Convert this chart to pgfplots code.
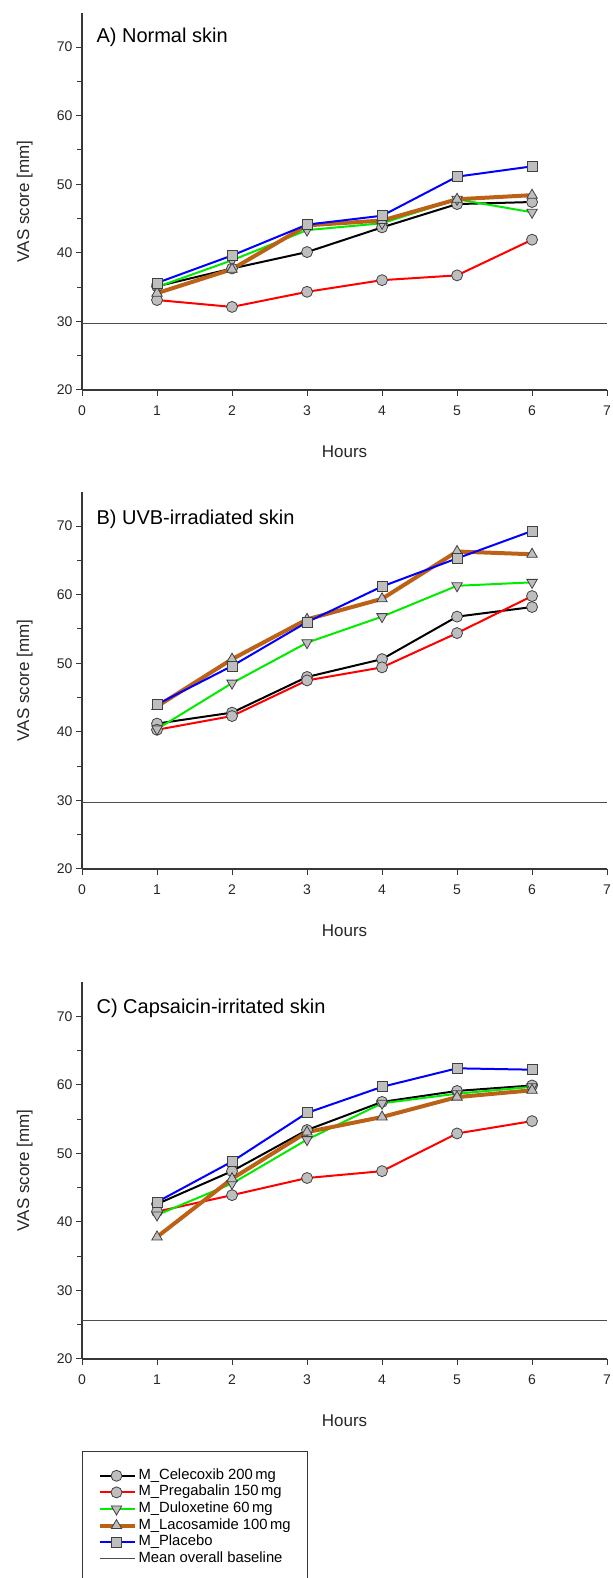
\documentclass[border=0pt]{standalone}
\usepackage{fontspec}
\setmainfont{Liberation Sans}
\usepackage{pgfplots}
\pgfplotsset{compat=1.18}

\definecolor{lacos}{RGB}{188,98,22}
\definecolor{dulox}{RGB}{0,235,0}
\definecolor{mfill}{RGB}{190,190,190}
\definecolor{axgray}{RGB}{55,55,55}

\pgfplotsset{
  vasaxis/.style={
    width=525pt, height=377pt, scale only axis,
    xmin=0, xmax=7, ymin=20, ymax=75,
    axis x line*=bottom, axis y line*=left,
    xtick={0,...,7}, ytick={20,30,...,70}, minor y tick num=1,
    tick align=outside, major tick length=6pt, minor tick length=5pt,
    tick style={line width=1pt, axgray},
    axis line style={line width=1.3pt, axgray},
    /pgf/number format/assume math mode=true,
    ticklabel style={font=\fontsize{14}{14}\selectfont, text=black!85},
    xticklabel style={yshift=-6pt},
    xlabel={Hours}, ylabel={VAS score [mm]},
    label style={font=\fontsize{17}{17}\selectfont, text=black!85},
    xlabel style={at={(axis description cs:0.5,-0.165)}, anchor=center},
    ylabel style={at={(axis description cs:-0.109,0.5)}, anchor=center},
    clip=false,
  },
  mk/.style={mark options={fill=mfill, draw=black!75, line width=0.8pt}},
  celeco/.style={black, line width=2pt, mark=*, mark size=5.5pt, mk},
  prega/.style={red, line width=2pt, mark=*, mark size=5.5pt, mk},
  dulo/.style={dulox, line width=2pt, mark=triangle*, mark size=6pt,
    mark options={fill=mfill, draw=black!75, line width=0.8pt, rotate=180}},
  laco/.style={lacos, line width=4pt, mark=triangle*, mark size=6pt, mk},
  plac/.style={blue, line width=2pt, mark=square*, mark size=5pt, mk},
  base/.style={black!70, line width=1.3pt, mark=none},
  legend image code/.code={
    \draw[mark repeat=2,mark phase=2] plot coordinates {(0pt,0pt) (17pt,0pt) (35pt,0pt)};
  },
}

\begin{document}
\begin{tikzpicture}
\clip (-82pt,12.8pt) rectangle (530pt,-1565pt);

% A) Normal skin
\begin{axis}[vasaxis, at={(0pt,0pt)}, anchor=north west]
\addplot[celeco] coordinates {(1,35.1) (2,37.7) (3,40.1) (4,43.7) (5,47.1) (6,47.4)};
\addplot[prega] coordinates {(1,33.1) (2,32.1) (3,34.3) (4,36.0) (5,36.7) (6,41.9)};
\addplot[dulo] coordinates {(1,35.0) (2,38.9) (3,43.3) (4,44.3) (5,47.8) (6,45.9)};
\addplot[laco] coordinates {(1,34.1) (2,37.6) (3,44.0) (4,44.7) (5,47.8) (6,48.4)};
\addplot[plac] coordinates {(1,35.6) (2,39.6) (3,44.1) (4,45.4) (5,51.1) (6,52.6)};
\addplot[base] coordinates {(0,29.7) (7,29.7)};
\node[anchor=west, font=\fontsize{20}{20}\selectfont] at (axis description cs:0.021,0.934) {A) Normal skin};
\end{axis}

% B) UVB-irradiated skin
\begin{axis}[vasaxis, at={(0pt,-479pt)}, anchor=north west]
\addplot[celeco] coordinates {(1,41.2) (2,42.8) (3,48.0) (4,50.6) (5,56.8) (6,58.2)};
\addplot[prega] coordinates {(1,40.3) (2,42.3) (3,47.5) (4,49.4) (5,54.4) (6,59.8)};
\addplot[dulo] coordinates {(1,40.4) (2,47.1) (3,53.0) (4,56.8) (5,61.3) (6,61.8)};
\addplot[laco] coordinates {(1,43.7) (2,50.6) (3,56.4) (4,59.4) (5,66.3) (6,65.9)};
\addplot[plac] coordinates {(1,44.0) (2,49.6) (3,56.0) (4,61.2) (5,65.3) (6,69.3)};
\addplot[base] coordinates {(0,29.7) (7,29.7)};
\node[anchor=west, font=\fontsize{20}{20}\selectfont] at (axis description cs:0.021,0.926) {B) UVB-irradiated skin};
\end{axis}

% C) Capsaicin-irritated skin
\begin{axis}[vasaxis, at={(0pt,-969pt)}, anchor=north west,
  legend cell align=left,
  legend style={at={(axis description cs:0,-0.244)}, anchor=north west,
    draw=axgray, line width=1pt, inner xsep=15pt, inner ysep=16pt,
    font=\fontsize{14.8}{14.8}\selectfont, row sep=0pt,
    nodes={inner ysep=0.8pt, text depth=4pt, text height=11pt}}]
\addplot[celeco] coordinates {(1,42.6) (2,47.4) (3,53.4) (4,57.5) (5,59.1) (6,59.9)};
\addplot[prega] coordinates {(1,41.5) (2,43.9) (3,46.4) (4,47.4) (5,52.9) (6,54.7)};
\addplot[dulo] coordinates {(1,41.0) (2,45.6) (3,52.0) (4,57.3) (5,58.7) (6,59.7)};
\addplot[laco] coordinates {(1,37.8) (2,46.3) (3,53.1) (4,55.3) (5,58.2) (6,59.2)};
\addplot[plac] coordinates {(1,42.9) (2,48.8) (3,55.9) (4,59.7) (5,62.4) (6,62.2)};
\addplot[base] coordinates {(0,25.6) (7,25.6)};
\node[anchor=west, font=\fontsize{20}{20}\selectfont] at (axis description cs:0.021,0.93) {C) Capsaicin-irritated skin};
\legend{M\_Celecoxib 200\,mg, M\_Pregabalin 150\,mg, M\_Duloxetine 60\,mg, M\_Lacosamide 100\,mg, M\_Placebo, Mean overall baseline}
\end{axis}
\end{tikzpicture}
\end{document}
